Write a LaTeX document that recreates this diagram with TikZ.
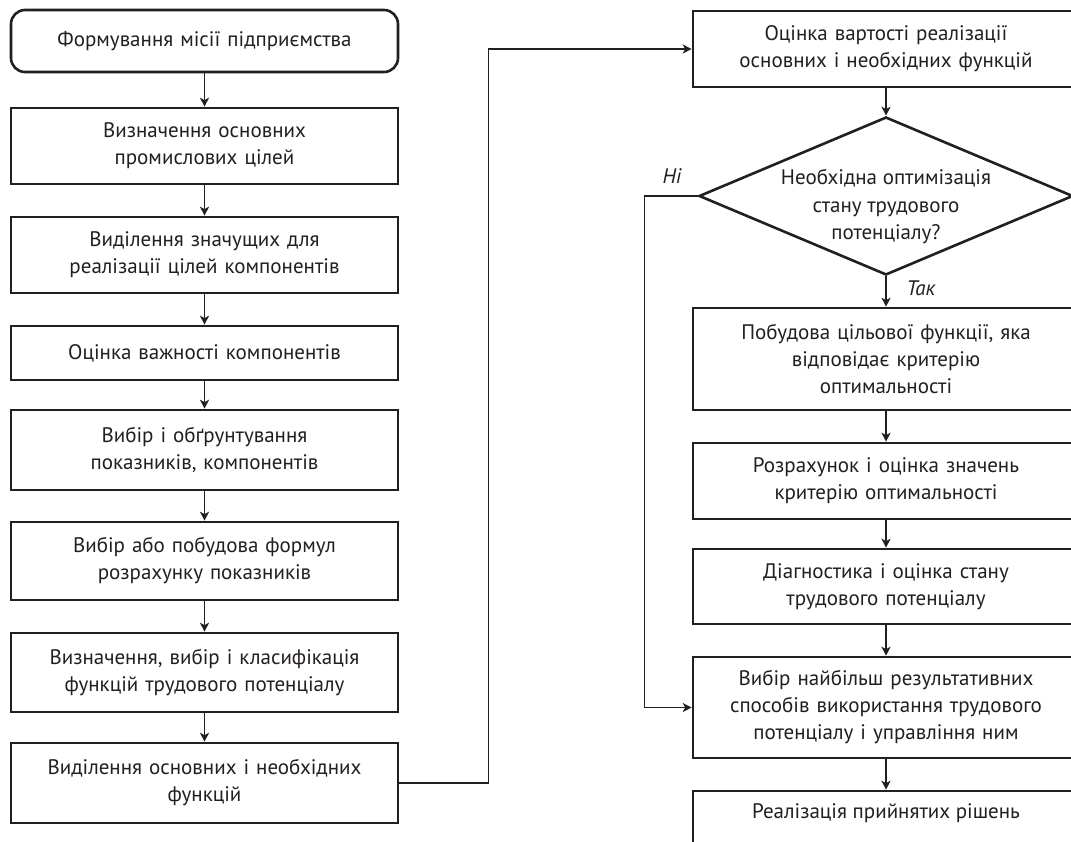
\documentclass[tikz,border=0pt]{standalone}
\usepackage{fontspec}
\setmainfont{PT Sans}
\usetikzlibrary{arrows.meta,shapes.geometric}
\definecolor{ink}{HTML}{231F20}
\tikzset{
  box/.style={draw=ink, line width=2.6pt, minimum width=387pt, text width=372pt, align=center, inner sep=0pt, text=ink, font=\fontsize{21}{27}\selectfont},
  flow/.style={draw=ink, line width=1.4pt, -{Stealth[length=9pt,width=9pt,inset=2.5pt]}},
  link/.style={draw=ink, line width=1.2pt, -{Stealth[length=9pt,width=9pt,inset=2.5pt]}},
  lbl/.style={text=ink, font=\fontsize{21}{27}\selectfont\itshape},
  txt/.style={text=ink, align=center, font=\fontsize{21}{27.5}\selectfont}
}
\begin{document}
\begin{tikzpicture}[x=1pt,y=-1pt]
\useasboundingbox[fill=white] (0,0) rectangle (1071,841);
\clip (0,0) rectangle (1071,841);
% left column
\node[box, rounded corners=14pt, minimum height=62pt] (b1) at (204.5,41) {Формування місії підприємства};
\node[box, minimum height=76pt] (b2) at (204.5,146) {Визначення основних\\промислових цілей};
\node[box, minimum height=76pt] (b3) at (204.5,255) {Виділення значущих для\\реалізації цілей компонентів};
\node[box, minimum height=54pt] (b4) at (204.5,353) {Оцінка важності компонентів};
\node[box, minimum height=80pt] (b5) at (204.5,450) {Вибір і обґрунтування\\показників, компонентів};
\node[box, minimum height=78pt] (b6) at (204.5,561) {Вибір або побудова формул\\розрахунку показників};
\node[box, minimum height=79pt] (b7) at (204.5,672.5) {Визначення, вибір і класифікація\\функцій трудового потенціалу};
\node[box, minimum height=80pt] (b8) at (204.5,783) {Виділення основних і необхідних\\функцій};
% right column
\node[box, minimum width=386pt, minimum height=76pt] (r1) at (886,49) {Оцінка вартості реалізації\\основних і необхідних функцій};
\node[draw=ink, line width=2.6pt, diamond, minimum width=374pt, minimum height=158pt, inner sep=0pt] (d) at (886,196) {};
\node[txt] (dt) at (886,207) {Необхідна оптимізація\\стану трудового\\потенціалу?};
\node[box, minimum width=386pt, minimum height=102pt] (r3) at (886,359) {Побудова цільової функції, яка\\відповідає критерію\\оптимальності};
\node[box, minimum width=386pt, minimum height=76pt] (r4) at (886,481) {Розрахунок і оцінка значень\\критерію оптимальності};
\node[box, minimum width=386pt, minimum height=75pt] (r5) at (886,586.5) {Діагностика і оцінка стану\\трудового потенціалу};
\node[box, minimum width=386pt, minimum height=101pt] (r6) at (886,707.5) {Вибір найбільш результативних\\способів використання трудового\\потенціалу і управління ним};
\node[box, minimum width=386pt, minimum height=76pt] (r7) at (886,829) {};
\node[txt] (r7t) at (886,813) {Реалізація прийнятих рішень};
% arrows left
\draw[flow] (b1) -- (b2);
\draw[flow] (b2) -- (b3);
\draw[flow] (b3) -- (b4);
\draw[flow] (b4) -- (b5);
\draw[flow] (b5) -- (b6);
\draw[flow] (b6) -- (b7);
\draw[flow] (b7) -- (b8);
% cross connector
\draw[link] (b8.east) -- ++(89,0) |- (r1.west);
% arrows right
\draw[flow] (r1) -- (d.north);
\draw[flow] (d.south) -- (r3);
\draw[flow] (r3) -- (r4);
\draw[flow] (r4) -- (r5);
\draw[flow] (r5) -- (r6);
\draw[flow] (r6) -- (r7);
\draw[link] (d.west) -- ++(-53,0) |- (r6.west);
\node[lbl] (no) at (672,176) {Ні};
\node[lbl] (yes) at (921,288) {Так};
\end{tikzpicture}
\end{document}
